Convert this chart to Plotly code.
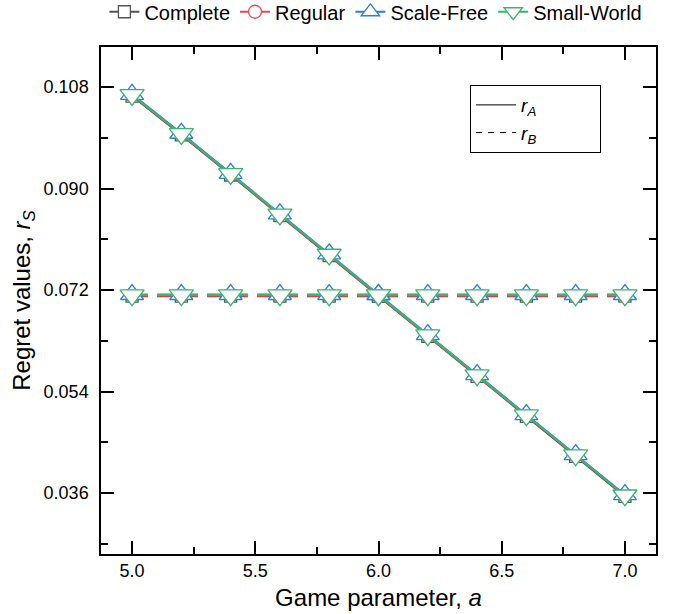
import plotly.graph_objects as go

a_values = [5.0, 5.2, 5.4, 5.6, 5.8, 6.0, 6.2, 6.4, 6.6, 6.8, 7.0]

series_names = ["Complete", "Regular", "Scale-Free", "Small-World"]
series_colors = ["#555555", "#e8474b", "#2f7de1", "#3cb371"]
series_symbols = ["square", "circle", "triangle-up", "triangle-down"]
series_sizes = [12, 13, 20, 21]

rA_complete = [0.1064, 0.0995, 0.0924, 0.0852, 0.0781, 0.0709, 0.0638, 0.0567, 0.0496, 0.0425, 0.0354]
rA_regular = [0.1065, 0.0996, 0.0925, 0.0853, 0.0782, 0.0710, 0.0639, 0.0568, 0.0497, 0.0426, 0.0355]
rA_scalefree = [0.1067, 0.0998, 0.0927, 0.0855, 0.0784, 0.0712, 0.0641, 0.0570, 0.0499, 0.0428, 0.0357]
rA_smallworld = [0.1066, 0.0997, 0.0926, 0.0854, 0.0783, 0.0711, 0.0640, 0.0569, 0.0498, 0.0427, 0.0356]

rB_complete = [0.0709] * 11
rB_regular = [0.0710] * 11
rB_scalefree = [0.0712] * 11
rB_smallworld = [0.0711] * 11

rA_all = [rA_complete, rA_regular, rA_scalefree, rA_smallworld]
rB_all = [rB_complete, rB_regular, rB_scalefree, rB_smallworld]

y_tickvals = [0.036, 0.054, 0.072, 0.090, 0.108]
x_tickvals = [5.0, 5.5, 6.0, 6.5, 7.0]

FONT = "Liberation Sans, Arial"

fig = go.Figure()

for name, col, sym, sz, ra, rb in zip(series_names, series_colors, series_symbols, series_sizes, rA_all, rB_all):
    fig.add_trace(go.Scatter(
        x=a_values, y=rb, mode="lines+markers", name=name, legendgroup=name,
        showlegend=False,
        line=dict(color=col, width=2, dash="16px,9px"),
        marker=dict(symbol=sym, size=sz, color="white", line=dict(width=1.3, color=col)),
    ))
    fig.add_trace(go.Scatter(
        x=a_values, y=ra, mode="lines+markers", name=name, legendgroup=name,
        showlegend=True, legend="legend",
        line=dict(color=col, width=2),
        marker=dict(symbol=sym, size=sz, color="white", line=dict(width=1.3, color=col)),
    ))

pad = "&nbsp;" * 11
fig.add_trace(go.Scatter(x=[None], y=[None], mode="lines",
                         name="<i>r</i><sub><i>A</i></sub>" + pad,
                         line=dict(color="black", width=1), legend="legend2"))
fig.add_trace(go.Scatter(x=[None], y=[None], mode="lines",
                         name="<i>r</i><sub><i>B</i></sub>" + pad,
                         line=dict(color="black", width=1, dash="6px,6px"), legend="legend2"))

axis_common = dict(
    showline=True, linecolor="black", linewidth=1.5, mirror="allticks",
    ticks="inside", ticklen=13, tickwidth=1.5, tickcolor="black",
    showgrid=False, zeroline=False,
    tickfont=dict(family=FONT, size=18, color="black"),
    title_font=dict(family=FONT, size=24, color="black"),
)

fig.update_xaxes(
    range=[4.874, 7.126], tickvals=x_tickvals, ticktext=[f"{v:.1f}" for v in x_tickvals],
    minor=dict(ticks="inside", ticklen=7, tickwidth=1.5, tickcolor="black", dtick=0.25, tick0=5.0, showgrid=False),
    title_text="Game parameter, <i>a</i>", title_standoff=9,
    **axis_common,
)
fig.update_yaxes(
    range=[0.02518, 0.1151], tickvals=y_tickvals, ticktext=[f"{v:.3f}" for v in y_tickvals],
    minor=dict(ticks="inside", ticklen=7, tickwidth=1.5, tickcolor="black", dtick=0.009, tick0=0.0, showgrid=False),
    title_text="Regret values, <i>r</i><sub><i>S</i></sub>", title_standoff=6,
    ticklabelstandoff=7,
    **axis_common,
)

fig.update_layout(
    width=681, height=614,
    margin=dict(l=101, r=25, t=47, b=60, autoexpand=False),
    plot_bgcolor="white", paper_bgcolor="white",
    font=dict(family=FONT, size=20, color="black"),
    legend=dict(orientation="h", x=0.552, xanchor="center", xref="container",
                y=1.108, yanchor="top", yref="paper",
                font=dict(size=20), itemwidth=30, tracegroupgap=0,
                bgcolor="rgba(0,0,0,0)"),
    legend2=dict(x=0.665, xanchor="left", y=0.925, yanchor="top",
                 bordercolor="black", borderwidth=1, bgcolor="white",
                 font=dict(size=19), itemwidth=40, tracegroupgap=6),
)

fig.write_html("out.html", config={"displayModeBar": False},
               post_script="document.body.style.margin='0';")
